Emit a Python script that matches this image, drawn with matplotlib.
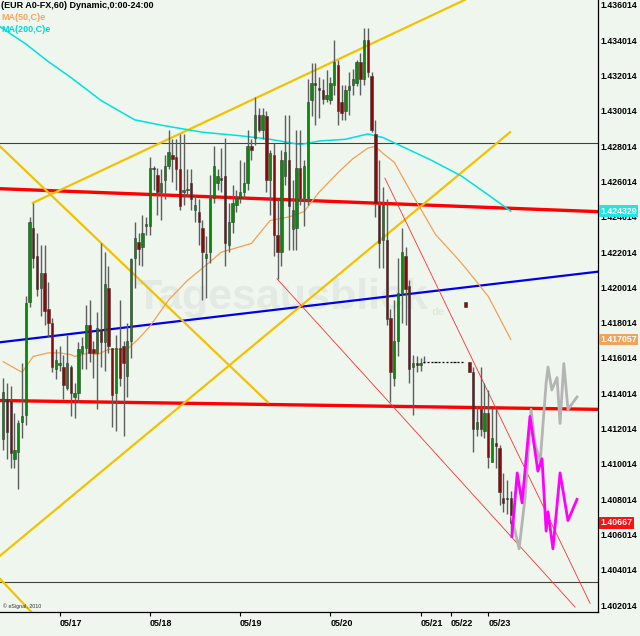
import matplotlib
matplotlib.use("Agg")
import matplotlib.pyplot as plt
import matplotlib.transforms as mtransforms
import numpy as np

plt.rcParams['font.family'] = ['Liberation Sans', 'DejaVu Sans']

BG = '#eef6ee'

# --- hourly candles (EUR, 60 min) ---
opens = [1.4114, 1.4137, 1.4136, 1.4103, 1.4107, 1.4124, 1.4128, 1.4192, 1.4234, 1.4218,
         1.4200, 1.4208, 1.4188, 1.4180, 1.4154, 1.4156, 1.4155, 1.4143, 1.4155, 1.4138,
         1.4140, 1.4163, 1.4166, 1.4179, 1.4165, 1.4163, 1.4176, 1.4169, 1.4200, 1.4166,
         1.4140, 1.4166, 1.4167, 1.4150, 1.4170, 1.4217, 1.4226, 1.4223, 1.4235, 1.4235,
         1.4268, 1.4264, 1.4254, 1.4261, 1.4269, 1.4275, 1.4274, 1.4267, 1.4254, 1.4255,
         1.4259, 1.4244, 1.4243, 1.4234, 1.4217, 1.4220, 1.4251, 1.4259, 1.4262, 1.4263,
         1.4224, 1.4237, 1.4247, 1.4251, 1.4254, 1.4259, 1.4280, 1.4285, 1.4298, 1.4289,
         1.4297, 1.4261, 1.4275, 1.4230, 1.4220, 1.4263, 1.4272, 1.4233, 1.4234, 1.4268,
         1.4251, 1.4251, 1.4306, 1.4316, 1.4313, 1.4312, 1.4307, 1.4306, 1.4315, 1.4326,
         1.4305, 1.4300, 1.4312, 1.4315, 1.4316, 1.4328, 1.4318, 1.4340, 1.4320, 1.4287,
         1.4247, 1.4227, 1.4227, 1.4183, 1.4149, 1.4170, 1.4197, 1.4218, 1.4201, 1.4155,
         1.4157, 1.4156, 1.4158, 1.4158, 1.4158, 1.4158, 1.4158, 1.4158, 1.4158, 1.4158,
         1.4158, 1.4158, 1.4158, 1.4192, 1.4158, 1.4152, 1.4120, 1.4131, 1.4119, 1.4129,
         1.4101, 1.4112, 1.4109, 1.4081, 1.4081, 1.4081]
highs = [1.4149, 1.4146, 1.4144, 1.4129, 1.4125, 1.4157, 1.4195, 1.4240, 1.4248, 1.4231,
         1.4224, 1.4224, 1.4203, 1.4183, 1.4165, 1.4167, 1.4162, 1.4173, 1.4156, 1.4146,
         1.4169, 1.4172, 1.4190, 1.4193, 1.4170, 1.4186, 1.4225, 1.4220, 1.4212, 1.4166,
         1.4173, 1.4193, 1.4170, 1.4180, 1.4217, 1.4237, 1.4231, 1.4241, 1.4240, 1.4274,
         1.4269, 1.4268, 1.4267, 1.4275, 1.4289, 1.4284, 1.4284, 1.4287, 1.4287, 1.4267,
         1.4267, 1.4252, 1.4250, 1.4238, 1.4229, 1.4264, 1.4280, 1.4267, 1.4279, 1.4285,
         1.4248, 1.4258, 1.4255, 1.4272, 1.4271, 1.4289, 1.4284, 1.4308, 1.4302, 1.4302,
         1.4300, 1.4278, 1.4282, 1.4250, 1.4278, 1.4298, 1.4298, 1.4261, 1.4289, 1.4289,
         1.4272, 1.4318, 1.4327, 1.4327, 1.4319, 1.4318, 1.4323, 1.4319, 1.4340, 1.4329,
         1.4315, 1.4315, 1.4322, 1.4324, 1.4329, 1.4333, 1.4347, 1.4347, 1.4322, 1.4295,
         1.4272, 1.4257, 1.4250, 1.4188, 1.4193, 1.4217, 1.4234, 1.4223, 1.4204, 1.4162,
         1.4161, 1.4160, 1.4161, 1.4158, 1.4158, 1.4158, 1.4158, 1.4158, 1.4158, 1.4158,
         1.4158, 1.4158, 1.4158, 1.4192, 1.4158, 1.4155, 1.4133, 1.4155, 1.4146, 1.4142,
         1.4132, 1.4132, 1.4111, 1.4095, 1.4091, 1.4085]
lows = [1.4108, 1.4103, 1.4098, 1.4098, 1.4086, 1.4115, 1.4122, 1.4189, 1.4211, 1.4195,
        1.4184, 1.4179, 1.4172, 1.4152, 1.4148, 1.4153, 1.4137, 1.4142, 1.4127, 1.4126,
        1.4135, 1.4154, 1.4154, 1.4158, 1.4149, 1.4131, 1.4155, 1.4153, 1.4163, 1.4121,
        1.4119, 1.4144, 1.4116, 1.4138, 1.4160, 1.4200, 1.4213, 1.4212, 1.4230, 1.4230,
        1.4255, 1.4241, 1.4238, 1.4250, 1.4267, 1.4260, 1.4255, 1.4244, 1.4247, 1.4252,
        1.4244, 1.4237, 1.4224, 1.4193, 1.4194, 1.4214, 1.4248, 1.4255, 1.4254, 1.4212,
        1.4220, 1.4231, 1.4243, 1.4248, 1.4251, 1.4255, 1.4272, 1.4281, 1.4288, 1.4284,
        1.4254, 1.4241, 1.4218, 1.4205, 1.4212, 1.4258, 1.4221, 1.4221, 1.4221, 1.4247,
        1.4235, 1.4247, 1.4297, 1.4292, 1.4296, 1.4304, 1.4305, 1.4304, 1.4309, 1.4292,
        1.4295, 1.4295, 1.4298, 1.4309, 1.4314, 1.4309, 1.4315, 1.4319, 1.4288, 1.4240,
        1.4211, 1.4211, 1.4179, 1.4135, 1.4144, 1.4161, 1.4180, 1.4179, 1.4146, 1.4128,
        1.4152, 1.4153, 1.4157, 1.4158, 1.4158, 1.4158, 1.4158, 1.4158, 1.4158, 1.4158,
        1.4158, 1.4158, 1.4158, 1.4189, 1.4152, 1.4107, 1.4116, 1.4116, 1.4115, 1.4098,
        1.4101, 1.4098, 1.4077, 1.4073, 1.4072, 1.4060]
closes = [1.4141, 1.4118, 1.4106, 1.4108, 1.4123, 1.4127, 1.4191, 1.4237, 1.4217, 1.4199,
          1.4208, 1.4187, 1.4180, 1.4155, 1.4159, 1.4157, 1.4145, 1.4157, 1.4140, 1.4140,
          1.4165, 1.4167, 1.4179, 1.4163, 1.4163, 1.4177, 1.4169, 1.4202, 1.4167, 1.4139,
          1.4166, 1.4149, 1.4157, 1.4170, 1.4216, 1.4228, 1.4222, 1.4231, 1.4236, 1.4268,
          1.4267, 1.4254, 1.4259, 1.4269, 1.4277, 1.4273, 1.4267, 1.4246, 1.4255, 1.4256,
          1.4250, 1.4247, 1.4237, 1.4220, 1.4219, 1.4251, 1.4269, 1.4263, 1.4261, 1.4225,
          1.4237, 1.4248, 1.4251, 1.4254, 1.4259, 1.4280, 1.4278, 1.4298, 1.4289, 1.4298,
          1.4261, 1.4276, 1.4230, 1.4220, 1.4272, 1.4277, 1.4246, 1.4244, 1.4268, 1.4251,
          1.4269, 1.4305, 1.4316, 1.4315, 1.4312, 1.4307, 1.4309, 1.4316, 1.4328, 1.4300,
          1.4299, 1.4312, 1.4314, 1.4318, 1.4328, 1.4318, 1.4340, 1.4322, 1.4289, 1.4248,
          1.4225, 1.4247, 1.4182, 1.4152, 1.4170, 1.4197, 1.4220, 1.4199, 1.4154, 1.4157,
          1.4156, 1.4157, 1.4158, 1.4158, 1.4158, 1.4158, 1.4158, 1.4158, 1.4158, 1.4158,
          1.4158, 1.4158, 1.4158, 1.4189, 1.4152, 1.4120, 1.4124, 1.4120, 1.4129, 1.4104,
          1.4115, 1.4110, 1.4084, 1.4078, 1.4080, 1.40667]

# moving averages (bar index, value)
ma50_idx = [0, 5, 8, 12, 15, 18, 19, 23, 25, 28, 33, 36, 39, 44, 49, 53, 58, 66, 71, 76,
            80, 84, 89, 93, 97, 99, 101, 104, 109, 115, 121, 123, 129, 135]
ma50_val = [1.4158, 1.4152, 1.4161, 1.4163, 1.4163, 1.4162, 1.4161, 1.4163, 1.4162, 1.4165,
            1.4165, 1.4171, 1.4178, 1.4193, 1.4204, 1.4211, 1.4220, 1.4225, 1.4238, 1.4240,
            1.4243, 1.4254, 1.4265, 1.4273, 1.4279, 1.4280, 1.4276, 1.4271, 1.4252, 1.4230,
            1.4216, 1.4211, 1.4195, 1.41706]
ma200_idx = [-1, 6, 12, 18, 26, 35, 42, 53, 63, 71, 79, 84, 91, 97, 101, 106, 114, 122, 128, 135]
ma200_val = [1.4348, 1.4338, 1.4328, 1.4319, 1.4306, 1.4295, 1.4292, 1.4288, 1.4286, 1.4284,
             1.4281, 1.4283, 1.4284, 1.4287, 1.4285, 1.4280, 1.4272, 1.4263, 1.4254, 1.424329]

# drawn trend lines: (x0, x1), (y0, y1)
red_upper = ([-0.85, 158.2], [1.4256, 1.4243])
red_lower = ([-0.85, 158.2], [1.4136, 1.4131])
blue_line = ([-0.85, 158.2], [1.4169, 1.4209])
yellow_lines = [([7.9, 122.8], [1.4248, 1.4363]),
                ([-0.85, 134.8], [1.4048, 1.4288]),
                ([-0.85, 70.4], [1.4280, 1.4135]),
                ([-0.85, 15.1], [1.4035, 1.3999])]
thin_red_lines = [([72.8, 152.1], [1.4205, 1.4019]),
                  ([101.5, 156.1], [1.4262, 1.4021])]
black_levels = [1.4282, 1.4033]

# projected paths
mag_x = [135.3, 136.7, 138.0, 140.1, 142.2, 143.3, 144.4, 144.9, 146.2, 148.1, 150.2, 152.6]
mag_y = [1.4059, 1.4095, 1.4078, 1.4127, 1.4096, 1.4103, 1.4062, 1.4073, 1.4052, 1.4095, 1.4068, 1.4080]
gray_x = [135.3, 137.2, 138.8, 140.4, 141.4, 142.8, 144.4, 144.9, 145.9, 147.3, 148.1, 149.1, 150.2, 152.6]
gray_y = [1.4070, 1.4052, 1.4081, 1.4131, 1.4112, 1.4101, 1.4146, 1.4155, 1.4142, 1.4149, 1.4123, 1.4157, 1.4131, 1.4138]

date_pos = [15, 39, 63, 87, 111, 119, 129]
date_lbl = ['05/17', '05/18', '05/19', '05/20', '05/21', '05/22', '05/23']
price_ticks = [1.402014 + 0.002 * k for k in range(18)]

# --- figure ---
fig = plt.figure(figsize=(6.4, 6.36), dpi=100, facecolor=BG)
ax = fig.add_axes([0, 24 / 636, 598 / 640, 612 / 636])
ax.set_facecolor(BG)
ax.set_xlim(-0.851, 158.19)
ax.set_ylim(1.40162, 1.43629)

# watermark
ax.text(74, 1.4194, 'Tagesausblick', fontsize=31, fontweight='bold', color='#e3eae3',
        ha='center', va='center', zorder=1)
ax.text(114, 1.4186, 'de', fontsize=8, fontweight='bold', color='#e0e8e0',
        ha='left', va='center', zorder=1)

for lv in black_levels:
    ax.axhline(lv, color='#404040', lw=0.8, zorder=2)
ax.plot(*red_upper, color='#ff0000', lw=2.4, zorder=2)
ax.plot(*red_lower, color='#ff0000', lw=2.4, zorder=2)
ax.plot(*blue_line, color='#0000e6', lw=1.6, zorder=2)
for xs, ys in yellow_lines:
    ax.plot(xs, ys, color='#f2c200', lw=1.6, zorder=2)
for xs, ys in thin_red_lines:
    ax.plot(xs, ys, color='#ff3030', lw=0.6, zorder=2)
ax.plot(ma200_idx, ma200_val, color='#00e0e0', lw=1.1, zorder=2)
ax.plot(ma50_idx, ma50_val, color='#f4a050', lw=0.9, zorder=2)

# candles
o, h, l, c = (np.array(v) for v in (opens, highs, lows, closes))
x = np.arange(len(o))
has_wick = h > l + 1e-9
ax.vlines(x[has_wick], l[has_wick], h[has_wick], color='#5e5e5e', lw=1.0, zorder=3)
up = c > o + 1e-9
dn = c < o - 1e-9
flat = ~(up | dn)
ax.bar(x[up], np.maximum(c[up] - o[up], 0.00005), bottom=o[up], width=0.64,
       color='#0a8a0a', edgecolor='#3a3a3a', lw=0.4, zorder=4)
ax.bar(x[dn], np.maximum(o[dn] - c[dn], 0.00005), bottom=c[dn], width=0.64,
       color='#8b0a0a', edgecolor='#3a3a3a', lw=0.4, zorder=4)
ax.hlines(o[flat], x[flat] - 0.3, x[flat] + 0.3, color='black', lw=0.9, zorder=4)

ax.plot(gray_x, gray_y, color='#b4b4b4', lw=2.0, zorder=5)
ax.plot(mag_x, mag_y, color='#ff00ff', lw=2.0, zorder=5)

# axes styling
for s in ('top', 'left'):
    ax.spines[s].set_visible(False)
for s in ('right', 'bottom'):
    ax.spines[s].set_color('black')
    ax.spines[s].set_linewidth(0.9)
ax.yaxis.tick_right()
ax.set_yticks(price_ticks)
ax.set_yticklabels(['%.6f' % v for v in price_ticks])
ax.tick_params(axis='y', length=0, pad=1.5, labelsize=6.3)
ax.set_xticks(date_pos)
ax.set_xticklabels(date_lbl)
ax.tick_params(axis='x', length=3, width=0.8, pad=2, labelsize=6.5)
for t in ax.get_yticklabels() + ax.get_xticklabels():
    t.set_fontweight('bold')
for t in ax.get_xticklabels():
    t.set_ha('left')

# last-value boxes
tr = mtransforms.blended_transform_factory(ax.transAxes, ax.transData)
for val, txt, col in [(1.424329, '1.424329', '#22e4e4'),
                      (1.417057, '1.417057', '#f2a35a'),
                      (1.40667, '1.40667', '#ff1010')]:
    ax.text(1.004, val, txt, transform=tr, color='white', fontsize=6.3, fontweight='bold',
            ha='left', va='center', zorder=10, clip_on=False,
            bbox=dict(boxstyle='square,pad=0.15', fc=col, ec='none'))

# header texts
fig.text(0.002, 1 - 6 / 636, '(EUR A0-FX,60) Dynamic,0:00-24:00', fontsize=6.5,
         fontweight='bold', color='black', va='center')
fig.text(0.002, 1 - 17 / 636, 'MA(50,C)e', fontsize=6.5, fontweight='bold',
         color='#f4a460', va='center')
fig.text(0.002, 1 - 29 / 636, 'MA(200,C)e', fontsize=6.5, fontweight='bold',
         color='#00d8d8', va='center')
fig.text(0.004, 1 - 606 / 636, '\u00a9 eSignal, 2010', fontsize=3.8, color='#303030', va='center')

fig.savefig('out.png', dpi=100, facecolor=BG)
